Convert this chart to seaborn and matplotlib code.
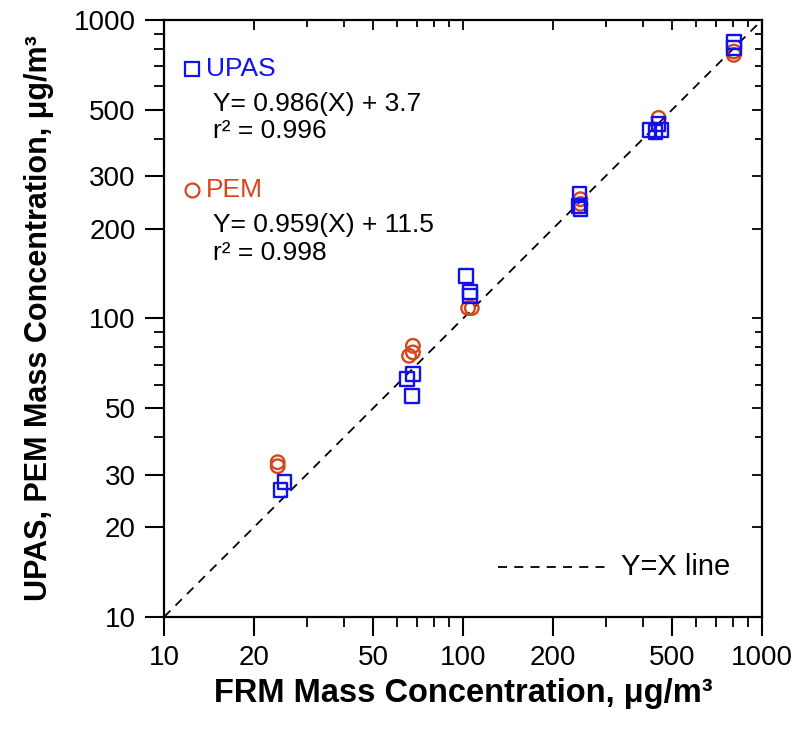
import numpy as np
import pandas as pd
import matplotlib
matplotlib.use("Agg")
import matplotlib.pyplot as plt
import seaborn as sns
from matplotlib.ticker import FixedLocator, FixedFormatter, NullFormatter, LogLocator

# ---- data ----
upas_frm = [24.5, 25.3, 65.0, 68.0, 67.5, 102.3, 105.5, 105.5, 245.0, 243.0, 247.0, 421.0, 441.0, 451.0, 461.0, 805.0, 805.0]
upas_val = [26.6, 28.3, 62.7, 65.2, 55.0, 138.8, 122.7, 118.9, 261.0, 238.0, 232.7, 428.0, 421.0, 449.0, 428.0, 844.0, 806.0]
pem_frm = [24.0, 24.0, 66.0, 68.0, 68.0, 104.0, 107.0, 247.0, 247.0, 451.0, 805.0, 805.0]
pem_val = [33.0, 32.0, 75.0, 81.0, 77.0, 108.4, 108.4, 251.0, 242.0, 470.0, 784.0, 764.0]
ref_line = [10, 1000]
x_ticks = [10, 20, 50, 100, 200, 500, 1000]
y_ticks = [10, 20, 30, 50, 100, 200, 300, 500, 1000]
upas_eq = ["Y= 0.986(X) + 3.7", "r\u00b2 = 0.996"]
pem_eq = ["Y= 0.959(X) + 11.5", "r\u00b2 = 0.998"]

BLUE = "#1010F0"
RED = "#D4461C"

sns.set_theme(style="white")
plt.rcParams["font.family"] = ["Liberation Sans", "DejaVu Sans"]
plt.rcParams["text.color"] = "black"
plt.rcParams["axes.labelcolor"] = "black"

W, H = 804, 741
fig = plt.figure(figsize=(W / 100, H / 100), dpi=100)
rect = [164 / W, 1 - 617 / H, 598 / W, 597 / H]
ax = fig.add_axes(rect)

df_u = pd.DataFrame({"FRM": upas_frm, "VAL": upas_val})
df_p = pd.DataFrame({"FRM": pem_frm, "VAL": pem_val})
df_r = pd.DataFrame({"FRM": ref_line, "VAL": ref_line})

sns.lineplot(data=df_r, x="FRM", y="VAL", ax=ax, color="black", linewidth=1.3,
             linestyle=(0, (5, 4)), zorder=1)
sns.scatterplot(data=df_p, x="FRM", y="VAL", ax=ax, marker="o", s=95,
                facecolors="none", edgecolor=RED, linewidth=1.7, zorder=3)
sns.scatterplot(data=df_u, x="FRM", y="VAL", ax=ax, marker="s", s=95,
                facecolors="none", edgecolor=BLUE, linewidth=1.7, zorder=4)

ax.set_xscale("log")
ax.set_yscale("log")
ax.set_xlim(10, 1000)
ax.set_ylim(10, 1000)

for axis, ticks in ((ax.xaxis, x_ticks), (ax.yaxis, y_ticks)):
    axis.set_major_locator(FixedLocator(ticks))
    axis.set_major_formatter(FixedFormatter([str(t) for t in ticks]))
    axis.set_minor_locator(LogLocator(base=10, subs=np.arange(2, 10)))
    axis.set_minor_formatter(NullFormatter())

ax.tick_params(which="major", direction="out", length=13.5, width=1.5, labelsize=20,
               colors="black", pad=7, bottom=True, left=True)
ax.tick_params(which="minor", direction="out", length=7, width=1.3,
               colors="black", bottom=True, left=True)
for s in ax.spines.values():
    s.set_linewidth(1.6)
    s.set_color("black")

ax.set_xlabel("FRM Mass Concentration, \u03bcg/m\u00b3", fontsize=23.5, fontweight="bold", labelpad=5)
ax.set_ylabel("UPAS, PEM Mass Concentration, \u03bcg/m\u00b3", fontsize=22, fontweight="bold", labelpad=14)

# top/right inward ticks via overlay axes
ax2 = fig.add_axes(rect, frameon=False)
ax2.set_xscale("log"); ax2.set_yscale("log")
ax2.set_xlim(10, 1000); ax2.set_ylim(10, 1000)
for axis, ticks in ((ax2.xaxis, x_ticks), (ax2.yaxis, y_ticks)):
    axis.set_major_locator(FixedLocator(ticks))
    axis.set_minor_locator(LogLocator(base=10, subs=np.arange(2, 10)))
    axis.set_major_formatter(NullFormatter())
    axis.set_minor_formatter(NullFormatter())
ax2.tick_params(which="both", direction="in", top=True, right=True, bottom=False, left=False,
                labelbottom=False, labelleft=False, width=1.3, colors="black")
ax2.tick_params(which="major", length=7)
ax2.tick_params(which="minor", length=5)
ax2.patch.set_alpha(0)

# annotations
fs = 19
ax.plot([0.047], [0.918], marker="s", ms=10, mfc="none", mec=BLUE, mew=1.6, transform=ax.transAxes)
ax.text(0.070, 0.918, "UPAS", color=BLUE, fontsize=fs, va="center", transform=ax.transAxes)
ax.text(0.082, 0.859, upas_eq[0], color="black", fontsize=fs, va="center", transform=ax.transAxes)
ax.text(0.082, 0.814, upas_eq[1], color="black", fontsize=fs, va="center", transform=ax.transAxes)
ax.plot([0.047], [0.715], marker="o", ms=10, mfc="none", mec=RED, mew=1.6, transform=ax.transAxes)
ax.text(0.070, 0.715, "PEM", color=RED, fontsize=fs, va="center", transform=ax.transAxes)
ax.text(0.082, 0.656, pem_eq[0], color="black", fontsize=fs, va="center", transform=ax.transAxes)
ax.text(0.082, 0.609, pem_eq[1], color="black", fontsize=fs, va="center", transform=ax.transAxes)

ax.plot([0.559, 0.74], [0.084, 0.084], color="black", lw=1.3, linestyle=(0, (5, 4)), transform=ax.transAxes)
ax.text(0.765, 0.084, "Y=X line", color="black", fontsize=21, va="center", transform=ax.transAxes)

fig.savefig("out.png", dpi=100)
